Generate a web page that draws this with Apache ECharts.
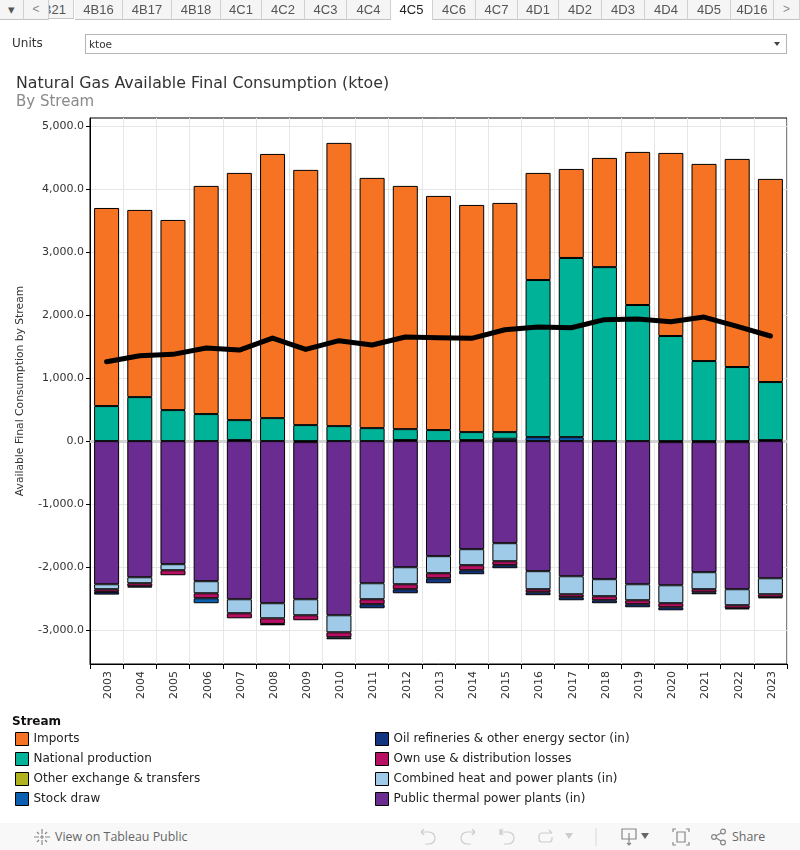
<!DOCTYPE html>
<html><head><meta charset="utf-8">
<script src="https://cdn.jsdelivr.net/npm/echarts@6/dist/echarts.min.js"></script>
<style>
html,body{margin:0;padding:0;background:#fff;width:800px;height:850px;overflow:hidden;font-family:"DejaVu Sans",sans-serif}
#main{position:absolute;left:0;top:0;width:800px;height:850px}
.tab{position:absolute;top:0;height:19px;background:#f5f5f5;border-right:1px solid #d0d0d0;border-bottom:1px solid #c4c4c4;text-align:center;font:13px/19px "Liberation Sans",sans-serif;color:#555;overflow:hidden;white-space:nowrap}
.tab.on{background:#fff;border-bottom:none;height:20px;color:#222}
.tab.cut{direction:rtl;text-align:right;padding-right:7px;box-sizing:border-box}
.tab.nav{color:#888;font-size:12px}
#units{position:absolute;left:12px;top:36px;font-size:12px;color:#333}
#sel{position:absolute;left:85px;top:34px;width:700px;height:18px;border:1px solid #b4b4b4;font-size:10.5px;line-height:19px;color:#333;text-indent:3px}
#sel i{position:absolute;right:6px;top:7px;width:0;height:0;border-left:3.5px solid transparent;border-right:3.5px solid transparent;border-top:4px solid #444}
#bar{position:absolute;left:0;top:823px;width:800px;height:27px;background:#f8f8f8;font:12.4px/27px "Open Sans",sans-serif;color:#666}
#bar span{position:absolute;top:0}
#bar svg{position:absolute;top:5px;fill:none;stroke:#888;stroke-width:1.2}
#bar svg.off{stroke:#ccc}
</style></head><body>
<div id="main"></div>
<div id="tabs"></div>
<div id="units">Units</div>
<div id="sel">ktoe<i></i></div>
<div id="bar">
<svg style="left:33px" width="18" height="18" viewBox="0 0 18 18"><path d="M9 1v5M9 12v5M1 9h5M12 9h5M4 4l2 2M12 12l2 2M4 14l2-2M12 6l2-2M9 7v4M7 9h4"/></svg>
<span style="left:55px">View on Tableau Public</span>
<svg class="off" style="left:418px" width="20" height="18" viewBox="0 0 20 18"><path d="M3 4h8a5 5 0 0 1 0 12H7M3 4l3-3M3 4l3 3"/></svg>
<svg class="off" style="left:458px" width="20" height="18" viewBox="0 0 20 18"><path d="M17 4H9a5 5 0 0 0 0 12h4M17 4l-3-3M17 4l-3 3"/></svg>
<svg class="off" style="left:497px" width="20" height="18" viewBox="0 0 20 18"><path d="M3 1v6M3 4h8a5 5 0 0 1 0 12H7M3 4l3-3M3 4l3 3"/></svg>
<svg class="off" style="left:535px" width="20" height="18" viewBox="0 0 20 18"><path d="M4 8a3 3 0 0 1 3-3h10M4 8v3a3 3 0 0 0 3 3h7a3 3 0 0 0 3-3V9M17 5l-3-3"/></svg>
<svg style="left:565px;top:10px;stroke:none;fill:#ccc" width="8" height="6"><path d="M0 0h8L4 6z"/></svg>
<svg style="left:595px;stroke:#ddd" width="2" height="18"><path d="M1 0v18"/></svg>
<svg style="left:621px" width="18" height="18" viewBox="0 0 18 18"><path d="M1 1h14v10H1zM8 5v12M6 15l2 2 2-2"/></svg>
<svg style="left:641px;top:10px;stroke:none;fill:#666" width="8" height="6"><path d="M0 0h8L4 6z"/></svg>
<svg style="left:672px" width="18" height="18" viewBox="0 0 18 18"><path d="M1 4V1h3M14 1h3v3M17 14v3h-3M4 17H1v-3M5 4h8v10H5z"/></svg>
<svg style="left:711px" width="16" height="18" viewBox="0 0 16 18"><circle cx="3" cy="9" r="2.4"/><circle cx="12" cy="3.5" r="2.4"/><circle cx="12" cy="14.5" r="2.4"/><path d="M5 8l5-3M5 10l5 3"/></svg>
<span style="left:732px">Share</span>
</div>
<script>
const years=[2003,2004,2005,2006,2007,2008,2009,2010,2011,2012,2013,2014,2015,2016,2017,2018,2019,2020,2021,2022,2023].map(String);
const imports=[3142,2969,3016,3619,3921,4190,4048,4492,3969,3858,3714,3603,3635,1699,1412,1732,2428,2904,3127,3301,3222];
const nationalProduction=[556,698,492,429,317,365,254,238,206,174,175,127,106,2492,2842,2760,2159,1667,1270,1175,921];
const otherExchange=[null,null,null,null,16,null,-16,null,null,16,null,16,null,null,null,null,null,-16,-16,-16,16];
const stockDraw=[null,null,null,-79,null,null,null,null,null,null,null,null,37,63,63,null,null,null,null,null,null];
const oilRefineries=[-43,-21,null,null,null,-22,null,-32,-64,-64,-79,-63,-48,-47,-48,-47,-48,-48,-32,-16,-16];
const ownUse=[-42,-48,-79,-79,-80,-89,-79,-79,-79,-79,-80,-80,-63,-48,-47,-64,-63,-64,-48,-48,-47];
const chp=[-79,-95,-96,-191,-222,-239,-254,-270,-254,-270,-270,-254,-286,-286,-286,-270,-254,-285,-270,-254,-254];
const publicThermal=[-2270,-2159,-1952,-2222,-2508,-2571,-2492,-2762,-2254,-2000,-1825,-1714,-1619,-2063,-2143,-2190,-2270,-2270,-2063,-2333,-2175];
const availableFinal=[1259,1354,1376,1476,1444,1635,1455,1593,1524,1651,1640,1630,1767,1810,1799,1926,1937,1894,1968,1820,1667];
const yTicks=[-3000,-2000,-1000,0,1000,2000,3000,4000,5000];
const tabNames=["▾","<","4B21","4B16","4B17","4B18","4C1","4C2","4C3","4C4","4C5","4C6","4C7","4D1","4D2","4D3","4D4","4D5","4D16",">"];
const tabEdges=[0,24,49,75,123,172,221,262,305,347,391,433,476,518,559,602,645,688,731,774,800];

const tabs=document.getElementById('tabs');
tabNames.forEach((n,i)=>{const d=document.createElement('div');
 d.className='tab'+(n==='4C5'?' on':'')+(n==='4B21'?' cut':'')+(n==='<'||n==='>'?' nav':'');d.textContent=n;
 d.style.left=tabEdges[i]+'px';d.style.width=(tabEdges[i+1]-tabEdges[i]-1)+'px';tabs.appendChild(d);});

const font='"DejaVu Sans",sans-serif';
const bar=(name,color,data)=>({name,type:'bar',stack:'s',barWidth:25,data,z:2,
 itemStyle:{color,borderColor:'#000',borderWidth:1}});
const series=[
 bar('Other exchange & transfers','#b0b31e',otherExchange),
 bar('Public thermal power plants (in)','#6a2c91',publicThermal),
 bar('Combined heat and power plants (in)','#a0cbe8',chp),
 bar('Own use & distribution losses','#b80f63',ownUse),
 bar('Oil refineries & other energy sector (in)','#12357f',oilRefineries),
 bar('Stock draw','#0a5fb0',stockDraw),
 bar('National production','#00b398',nationalProduction),
 bar('Imports','#f57323',imports),
 {name:'Available Final Consumption',type:'line',data:availableFinal,z:5,showSymbol:false,symbol:'none',
  lineStyle:{color:'#000',width:5,cap:'round',join:'round'},
  markLine:{silent:true,symbol:'none',z:1,label:{show:false},lineStyle:{color:'#d4d4d4',width:3,type:'solid'},data:[{yAxis:0}],animation:false}}
];
const legendBase={orient:'vertical',top:732,itemWidth:13,itemHeight:13,itemGap:6,icon:'rect',
 textStyle:{fontFamily:font,fontSize:12,color:'#222',padding:[0,0,0,0]},itemStyle:{borderColor:'#000',borderWidth:1},selectedMode:false,padding:0};
const chart=echarts.init(document.getElementById('main'),null,{renderer:'canvas'});
chart.setOption({
 animation:false,backgroundColor:'#fff',
 title:[
  {text:'Natural Gas Available Final Consumption (ktoe)',left:16,top:76,padding:0,textStyle:{fontFamily:font,fontSize:15.8,fontWeight:'normal',color:'#333'}},
  {text:'By Stream',left:16,top:95,padding:0,textStyle:{fontFamily:font,fontSize:15,fontWeight:'normal',color:'#8a8a8a'}},
  {text:'Stream',left:12,top:716,padding:0,textStyle:{fontFamily:font,fontSize:12,fontWeight:'bold',color:'#111'}}
 ],
 legend:[
  Object.assign({},legendBase,{left:15,data:['Imports','National production','Other exchange & transfers','Stock draw']}),
  Object.assign({},legendBase,{left:375,data:['Oil refineries & other energy sector (in)','Own use & distribution losses','Combined heat and power plants (in)','Public thermal power plants (in)']})
 ],
 grid:{left:90,right:13,top:118,bottom:186,show:true,borderColor:'#000',borderWidth:1,backgroundColor:'transparent'},
 xAxis:{type:'category',data:years,boundaryGap:true,
  axisLine:{onZero:false,lineStyle:{color:'#000',width:1}},
  axisTick:{show:true,length:5,alignWithLabel:false,interval:0,lineStyle:{color:'#000'}},
  axisLabel:{rotate:90,interval:0,color:'#333',margin:7,formatter:'{a|{value}}',
   rich:{a:{fontFamily:font,fontSize:11,color:'#333',padding:[3,0,0,0]}}},
  splitLine:{show:true,interval:0,lineStyle:{color:'#e6e6e6',width:1}}},
 yAxis:{type:'value',min:-3535,max:5125,
  name:'Available Final Consumption by Stream',nameLocation:'middle',nameGap:64,
  nameTextStyle:{fontFamily:font,fontSize:10.75,color:'#333'},
  axisLine:{show:true,lineStyle:{color:'#000',width:1}},
  axisTick:{show:true,length:4,customValues:yTicks,lineStyle:{color:'#000'}},
  axisLabel:{customValues:yTicks,fontFamily:font,fontSize:11,color:'#333',margin:6,
   formatter:v=>(v<0?'-':'')+Math.abs(v).toLocaleString('en-US',{minimumFractionDigits:1,maximumFractionDigits:1})},
  splitLine:{show:true,lineStyle:{color:'#e6e6e6',width:1}}},
 series
});
</script></body></html>
